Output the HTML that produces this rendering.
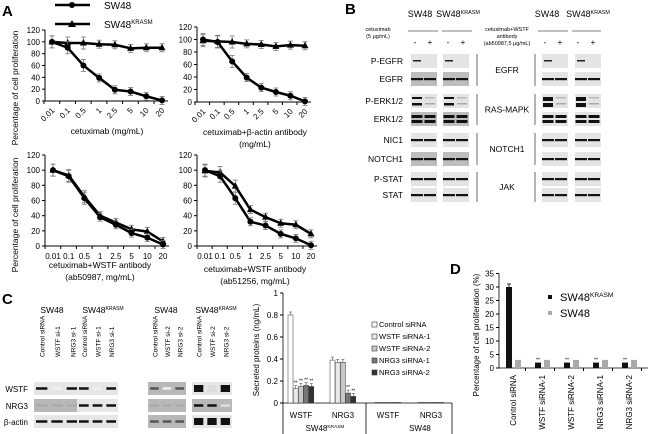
<!DOCTYPE html>
<html><head><meta charset="utf-8"><style>
html,body{margin:0;padding:0;background:#fff}
svg{display:block;font-family:"Liberation Sans",Arial,sans-serif}
</style></head><body>
<svg id="fig" width="650" height="434" viewBox="0 0 650 434">
<g id="panelA"></g>
<g id="panelB"></g>
<g id="panelC"></g>
<g id="panelD"></g>
</svg>
<script>
// ---------- DATA ----------
const doseLabels = ["0.01","0.1","0.5","1","2.5","5","10","20"];
const a1SW48 = [100,90,60,39,19,16,8,1];
const a1KRAS = [100,98,98,96,95,89,90,90];
const a2SW48 = [100,96,65,39,23,16,10,1];
const a2KRAS = [98,97,96,93,92,89,91,90];
const a3SW48 = [100,92,63,38,28,17,11,2];
const a3KRAS = [100,93,65,40,31,22,19,6];
const a4SW48 = [100,92,63,32,27,16,10,1];
const a4KRAS = [99,97,79,48,38,30,28,16];
const yTicksA = [0,20,40,60,80,100,120];

const cCats = ["WSTF","NRG3","WSTF","NRG3"];
const cSeries = ["Control siRNA","WSTF siRNA-1","WSTF siRNA-2","NRG3 siRNA-1","NRG3 siRNA-2"];
const cWSTF_K = [0.80,0.13,0.15,0.16,0.15];
const cNRG3_K = [0.39,0.37,0.37,0.09,0.06];
const cWSTF_S = [0.005,0.005,0.005,0.005,0.005];
const cNRG3_S = [0.005,0.005,0.005,0.005,0.005];
const yTicksC = [0,0.2,0.4,0.6,0.8,1];

const dCats = ["Control siRNA","WSTF siRNA-1","WSTF siRNA-2","NRG3 siRNA-1","NRG3 siRNA-2"];
const dKRAS = [30,2,2,2,2];
const dSW48 = [3,3,3,3,3];
const yTicksD = [0,5,10,15,20,25,30,35];

const NS="http://www.w3.org/2000/svg";
function el(parent,tag,attrs,text){const e=document.createElementNS(NS,tag);for(const k in attrs)e.setAttribute(k,attrs[k]);if(text!==undefined)e.textContent=text;parent.appendChild(e);return e;}

// ---------- PANEL A ----------
const A=document.getElementById('panelA');
let t=el(A,'text',{x:2,y:16,'font-size':15,'font-weight':'bold'},'A');

// legend
let lg=el(A,'g',{});

el(lg,'line',{x1:55,y1:5,x2:90,y2:5,stroke:'#000','stroke-width':2.5});
el(lg,'circle',{cx:72,cy:5,r:3});
el(lg,'text',{x:104,y:9,'font-size':10},'SW48');
el(lg,'line',{x1:55,y1:24,x2:90,y2:24,stroke:'#000','stroke-width':2.5});
el(lg,'polygon',{points:'72,20 76,27 68,27'});
let kt=el(lg,'text',{x:104,y:28,'font-size':10},'SW48');
el(kt,'tspan',{'font-size':6,dy:-4},'KRASM');

function doseChart(cfg){
  const g=el(A,'g',{});
  
  
  const yS=v=>cfg.y0-(cfg.y0-cfg.y120)*v/120;
  const xS=i=>cfg.x0+(cfg.x1-cfg.x0)*i/(doseLabels.length-1);
  el(g,'line',{x1:cfg.ax,y1:cfg.y120,x2:cfg.ax,y2:cfg.y0,stroke:'#000','stroke-width':1});
  el(g,'line',{x1:cfg.ax,y1:cfg.y0,x2:cfg.x1+6,y2:cfg.y0,stroke:'#000','stroke-width':1});
  yTicksA.forEach(v=>{el(g,'line',{x1:cfg.ax-3,y1:yS(v),x2:cfg.ax,y2:yS(v),stroke:'#000'});
    el(g,'text',{x:cfg.ax-5,y:yS(v)+3,'font-size':8,'text-anchor':'end'},v);});
  doseLabels.forEach((l,i)=>{
    el(g,'line',{x1:xS(i)-8,y1:cfg.y0,x2:xS(i)-8,y2:cfg.y0+3,stroke:'#000'});
    if(cfg.rot) el(g,'text',{x:xS(i)+3,y:cfg.y0+10,'font-size':8,'text-anchor':'end',transform:`rotate(-45 ${xS(i)+3} ${cfg.y0+10})`},l);
    else el(g,'text',{x:xS(i),y:cfg.y0+13,'font-size':8,'text-anchor':'middle'},l);
  });
  [[cfg.k,'tri'],[cfg.s,'circ']].forEach(([arr,m])=>{
    const s=el(g,'g',{});
    
    
    el(s,'polyline',{points:arr.map((v,i)=>xS(i)+','+yS(v)).join(' '),fill:'none',stroke:'#000','stroke-width':2.5});
    arr.forEach((v,i)=>{
      const x=xS(i),y=yS(v),e=i<3?6:4;
      el(s,'line',{x1:x,y1:y-e,x2:x,y2:y+e,stroke:'#777','stroke-width':0.8});
      el(s,'line',{x1:x-2.5,y1:y-e,x2:x+2.5,y2:y-e,stroke:'#777','stroke-width':0.8});
      el(s,'line',{x1:x-2.5,y1:y+e,x2:x+2.5,y2:y+e,stroke:'#777','stroke-width':0.8});
      if(m==='circ')el(s,'circle',{cx:x,cy:y,r:3});
      else el(s,'polygon',{points:`${x},${y-4} ${x+3.5},${y+2.5} ${x-3.5},${y+2.5}`});
    });
  });
  cfg.xl.forEach((s,i)=>el(g,'text',{x:cfg.xlx,y:cfg.xly+i*12,'font-size':8.5,'text-anchor':'middle'},s));
}
doseChart({name:'chart-cetuximab',ax:45,x0:52,x1:162,y0:101,y120:30,k:a1KRAS,s:a1SW48,rot:true,xl:['cetuximab (mg/mL)'],xlx:107,xly:134});
doseChart({name:'chart-cetuximab-bactin',ax:197,x0:203,x1:305,y0:102,y120:27,k:a2KRAS,s:a2SW48,rot:true,xl:['cetuximab+β-actin antibody','(mg/mL)'],xlx:255,xly:135});
doseChart({name:'chart-cetuximab-wstf-50987',ax:45,x0:53,x1:163,y0:246,y120:155,k:a3KRAS,s:a3SW48,rot:false,xl:['cetuximab+WSTF antibody','(ab50987, mg/mL)'],xlx:100,xly:268});
doseChart({name:'chart-cetuximab-wstf-51256',ax:197,x0:205,x1:311,y0:246,y120:155,k:a4KRAS,s:a4SW48,rot:false,xl:['cetuximab+WSTF antibody','(ab51256,  mg/mL)'],xlx:255,xly:272});
[[18,88],[18,215]].forEach(([x,y],i)=>{
  const tt=el(A,'text',{x:x,y:y,'font-size':8.5,'text-anchor':'middle',transform:`rotate(-90 ${x} ${y})`},'Percentage of cell proliferation');
  
});

// ---------- PANEL B ----------
const B=document.getElementById('panelB');
t=el(B,'text',{x:345,y:14,'font-size':15,'font-weight':'bold'},'B');

function kras(p,x,y,fs){const tx=el(p,'text',{x:x,y:y,'font-size':fs,'text-anchor':'middle'},'SW48');el(tx,'tspan',{'font-size':fs*0.6,dy:-fs*0.35},'KRASM');return tx;}
el(B,'text',{x:420,y:17,'font-size':9,'text-anchor':'middle'},'SW48');
kras(B,458,17,9);
el(B,'text',{x:547,y:17,'font-size':9,'text-anchor':'middle'},'SW48');
kras(B,588,17,9);
[[408,438],[442,472],[538,568],[572,601]].forEach(([a,b])=>el(B,'line',{x1:a,y1:31,x2:b,y2:31,stroke:'#555','stroke-width':0.8}));
el(B,'text',{x:378,y:31,'font-size':5.5,'text-anchor':'middle'},'cetuximab');
el(B,'text',{x:378,y:38,'font-size':5.5,'text-anchor':'middle'},'(5 μg/mL)');
el(B,'text',{x:507,y:31,'font-size':5.5,'text-anchor':'middle'},'cetuximab+WSTF');
el(B,'text',{x:507,y:38,'font-size':5.5,'text-anchor':'middle'},'antibody');
el(B,'text',{x:507,y:45,'font-size':5.5,'text-anchor':'middle'},'(ab50987,5 μg/mL)');
[415,430,448,463,545,560,578,593].forEach((x,i)=>el(B,'text',{x:x,y:45,'font-size':8,'text-anchor':'middle'},i%2?'+':'-'));
const bRows=[['P-EGFR',54],['EGFR',72],['P-ERK1/2',94],['ERK1/2',112],['NIC1',133],['NOTCH1',152],['P-STAT',172],['STAT',188]];
const bBoxes=[411,443,542,575];
bRows.forEach(([n,y],ri)=>{
  const rg=el(B,'g',{});
  
  
  el(rg,'text',{x:403,y:y+10,'font-size':8.5,'text-anchor':'end'},n);
  bBoxes.forEach((bx,bi)=>{
    const dark=(ri===1||ri===3||ri===5)&&bi<2;
    el(rg,'rect',{x:bx,y:y,width:26,height:14,fill:dark?'#bdbdbd':'#e4e4e4'});
    const pos=[bx+6,bx+19];
    pos.forEach((cx,li)=>{
      if(ri===0){ if(li===0) el(rg,'rect',{x:cx-4,y:y+6,width:8,height:1.5,fill:'#222'}); return;}
      if(ri===2){ const strong=li===0; el(rg,'rect',{x:cx-5,y:y+3,width:10,height:strong?(bi>=2?4:2):1.5,fill:strong?'#111':'#bbb'}); el(rg,'rect',{x:cx-5,y:y+9,width:10,height:strong?(bi>=2?4:2.5):1.5,fill:strong?'#111':'#aaa'}); return;}
      if(ri===3){ el(rg,'rect',{x:cx-5.5,y:y+3,width:11,height:3,fill:'#111'});el(rg,'rect',{x:cx-5.5,y:y+8,width:11,height:3,fill:'#111'});return;}
      el(rg,'rect',{x:cx-6,y:y+6,width:12,height:2.2,fill:'#111'});
    });
  });
});
[[54,86,'EGFR'],[94,125,'RAS-MAPK'],[133,165,'NOTCH1'],[172,202,'JAK']].forEach(([a,b,l])=>{
  el(B,'line',{x1:477,y1:a,x2:477,y2:b,stroke:'#444','stroke-width':0.8});
  el(B,'line',{x1:535,y1:a,x2:535,y2:b,stroke:'#444','stroke-width':0.8});
  el(B,'text',{x:507,y:(a+b)/2+3,'font-size':8.5,'text-anchor':'middle'},l);
});

// ---------- PANEL C ----------
const C=document.getElementById('panelC');
t=el(C,'text',{x:2,y:304,'font-size':15,'font-weight':'bold'},'C');

el(C,'text',{x:52,y:313,'font-size':8.5,'text-anchor':'middle'},'SW48');
kras(C,103,313,8.5);
el(C,'text',{x:166,y:313,'font-size':8.5,'text-anchor':'middle'},'SW48');
kras(C,216,313,8.5);
const laneLab=[['Control siRNA','WSTF si-1','NRG3 si-1'],['Control siRNA','WSTF si-1','NRG3 si-1'],['Control siRNA','WSTF si-2','NRG3 si-2'],['Control siRNA','WSTF si-2','NRG3 si-2']];
const cBoxes=[[34,80],[77,118],[148,186],[192,232]];
cBoxes.forEach(([a,b],gi)=>{
  const w=(b-a)/3;
  laneLab[gi].forEach((l,li)=>{const x=a+w*li+w/2+3;el(C,'text',{x:x,y:357,'font-size':6.5,transform:`rotate(-90 ${x} 357)`},l);});
  [382,399,415].forEach((y,ri)=>{
    const bg=(ri===1&&gi!==1)||(gi===2)? '#b8b8b8':'#e6e6e6';
    el(C,'rect',{x:a,y:y,width:b-a,height:13,fill:bg});
    for(let li=0;li<3;li++){
      const x=a+w*li+2;let h=2.5,c='#111';
      if(ri===0&&li===1){c=gi===3?'#ddd':'#f0f0f0';}
      if(ri===1&&gi!==1&&gi!==3){c='#aaa';}
      if(ri===1&&gi===3&&li===2)c='#ddd';
      if(gi===3&&ri!==1)h=7;
      if(gi===2)c=c==='#111'?'#555':c;
      el(C,'rect',{x:x,y:y+6.5-h/2,width:w-4,height:h,fill:c});
    }
  });
});
[['WSTF',392],['NRG3',409],['β-actin',425]].forEach(([l,y])=>el(C,'text',{x:28,y:y,'font-size':8,'text-anchor':'end'},l));

// bar chart C
const cg=el(C,'g',{});

const cy0=403,cy1=293,cax=283;
const cY=v=>cy0-(cy0-cy1)*v/1;
el(cg,'line',{x1:cax,y1:cy1,x2:cax,y2:434,stroke:'#000','stroke-width':0.8});
el(cg,'line',{x1:cax,y1:cy0,x2:452,y2:cy0,stroke:'#000','stroke-width':0.8});
el(cg,'line',{x1:452,y1:cy0,x2:452,y2:434,stroke:'#000','stroke-width':0.8});
el(cg,'line',{x1:366,y1:cy0,x2:366,y2:434,stroke:'#000','stroke-width':0.8});
yTicksC.forEach(v=>{el(cg,'line',{x1:cax-3,y1:cY(v),x2:cax,y2:cY(v),stroke:'#000'});
  el(cg,'text',{x:cax-5,y:cY(v)+3,'font-size':8,'text-anchor':'end'},v===0?'0':(v===1?'1':v.toFixed(1)));});
const cFill=['#fff','#e8e8e8','#c8c8c8','#777','#333'];
const cGroupsData=[cWSTF_K,cNRG3_K,cWSTF_S,cNRG3_S];
const cGx=[288,330,375,418];
cGroupsData.forEach((arr,gi)=>{
  arr.forEach((v,si)=>{
    const x=cGx[gi]+si*5.2;
    const r=el(cg,'rect',{x:x,y:cY(v),width:5,height:cY(0)-cY(v),fill:cFill[si],stroke:'#333','stroke-width':0.5});
    
    
    if(gi<2&&v>0.02){el(cg,'line',{x1:x+2.5,y1:cY(v)-3,x2:x+2.5,y2:cY(v),stroke:'#555','stroke-width':0.6});
      el(cg,'line',{x1:x+1,y1:cY(v)-3,x2:x+4,y2:cY(v)-3,stroke:'#555','stroke-width':0.6});}
    if(gi<2&&si>0&&v<0.2)el(cg,'text',{x:x+2.5,y:cY(v)-4,'font-size':5,'text-anchor':'middle'},'**');
  });
  el(cg,'text',{x:cGx[gi]+13,y:418,'font-size':8,'text-anchor':'middle'},cCats[gi]);
});
kras(cg,325,431,8);
el(cg,'text',{x:420,y:431,'font-size':8,'text-anchor':'middle'},'SW48');
el(cg,'text',{x:259,y:350,'font-size':8,'text-anchor':'middle',transform:'rotate(-90 259 350)'},'Secreted proteins (ng/mL)');
cSeries.forEach((s,i)=>{const y=327+i*12;
  const le=el(cg,'g',{});
  el(le,'rect',{x:372,y:y-5,width:5,height:5,fill:cFill[i],stroke:'#333','stroke-width':0.6});
  el(le,'text',{x:379,y:y,'font-size':7.5},s);});

// ---------- PANEL D ----------
const D=document.getElementById('panelD');
t=el(D,'text',{x:450,y:274,'font-size':15,'font-weight':'bold'},'D');

const dy0=368,dy35=273.5,dax=499;
const dY=v=>dy0-(dy0-dy35)*v/35;
const dX=i=>511+i*29;
el(D,'line',{x1:dax,y1:dY(35),x2:dax,y2:dy0,stroke:'#000','stroke-width':0.8});
el(D,'line',{x1:dax,y1:dy0,x2:648,y2:dy0,stroke:'#000','stroke-width':0.8});
yTicksD.forEach(v=>{el(D,'line',{x1:dax-3,y1:dY(v),x2:dax,y2:dY(v),stroke:'#000'});
  el(D,'text',{x:dax-5,y:dY(v)+3,'font-size':8,'text-anchor':'end'},v);});
dCats.forEach((c,i)=>{
  el(D,'line',{x1:dX(i)+14.5,y1:dy0,x2:dX(i)+14.5,y2:dy0+3,stroke:'#000'});
  const bk=el(D,'rect',{x:dX(i)-5,y:dY(dKRAS[i]),width:6,height:dy0-dY(dKRAS[i]),fill:'#111'});
  
  const gr=el(D,'rect',{x:dX(i)+4,y:dY(dSW48[i]),width:6,height:dy0-dY(dSW48[i]),fill:'#aaa'});
  
  if(i===0){el(D,'line',{x1:dX(i)-2,y1:dY(dKRAS[i])-3,x2:dX(i)-2,y2:dY(dKRAS[i]),stroke:'#333'});el(D,'line',{x1:dX(i)-4,y1:dY(dKRAS[i])-3,x2:dX(i),y2:dY(dKRAS[i])-3,stroke:'#333'});}
  else el(D,'text',{x:dX(i)-2,y:dY(dKRAS[i])-1,'font-size':5,'text-anchor':'middle'},'**');
  const tx=dX(i)+5;
  el(D,'text',{x:tx,y:375,'font-size':8,'text-anchor':'end',transform:`rotate(-90 ${tx} 375)`},c);
});
el(D,'text',{x:479,y:335,'font-size':8,'text-anchor':'middle',transform:'rotate(-90 479 335)'},'Percentage of cell proliferation (%)');
const dl=el(D,'g',{});
el(dl,'rect',{x:548,y:295,width:4,height:4,fill:'#111'});
kras(dl,590,301,11).setAttribute('text-anchor','start');
dl.lastChild.setAttribute('x',560);
el(dl,'rect',{x:548,y:311,width:4,height:4,fill:'#aaa'});
el(dl,'text',{x:560,y:317,'font-size':11},'SW48');
</script>
</body></html>
